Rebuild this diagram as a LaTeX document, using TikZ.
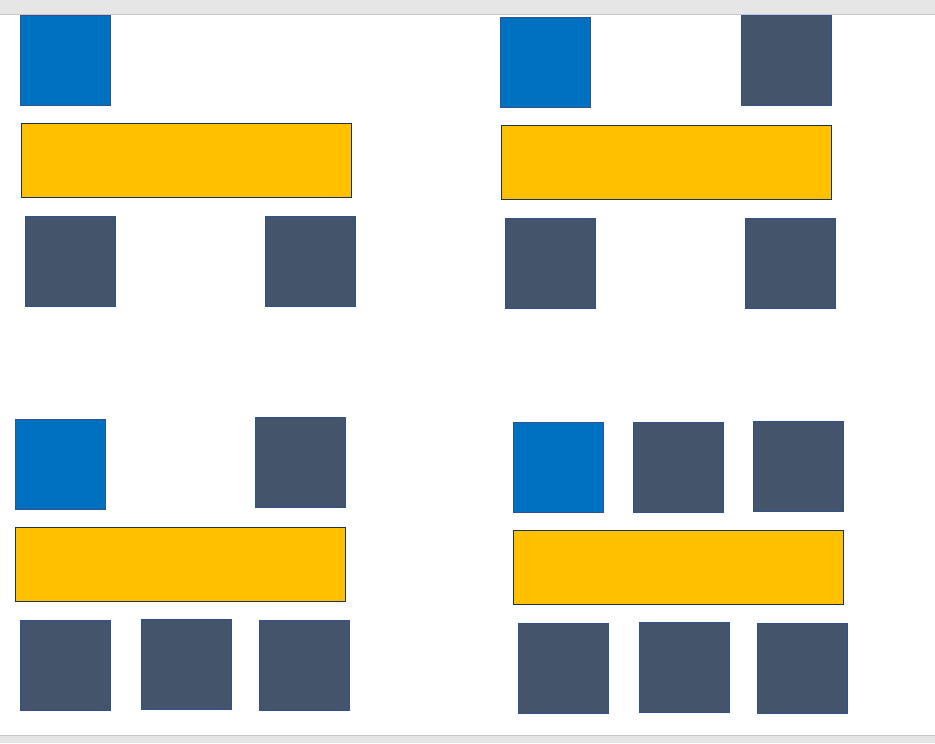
\documentclass[tikz,border=0pt]{standalone}
\usepackage{xcolor}
\usepackage{tikz}
\usetikzlibrary{positioning}
\definecolor{tileblue}{RGB}{0,112,192}
\definecolor{tilegold}{RGB}{255,192,0}
\definecolor{tileslate}{RGB}{68,84,106}
\definecolor{tileedge}{RGB}{47,82,143}
\definecolor{chrome}{RGB}{230,230,230}
\definecolor{chromeline}{RGB}{200,200,200}

\begin{document}
\begin{tikzpicture}[x=0.03cm, y=-0.03cm,
  box/.style={rectangle, draw=tileedge, line width=0.5pt, inner sep=0pt, outer sep=0pt,
              minimum width=2.7cm, minimum height=2.7cm},
  lead/.style={box, fill=tileblue},
  tile/.style={box, fill=tileslate},
  bar/.style={box, fill=tilegold, draw=tileedge!60!black, minimum width=9.9cm, minimum height=2.22cm}
]
\useasboundingbox (0,0) rectangle (935,743);
% window chrome
\fill[chrome] (0,0) rectangle (935,14);
\draw[chromeline, line width=0.6pt] (0,14) -- (935,14);
\fill[chrome] (0,735) rectangle (935,743);
\draw[chromeline, line width=0.6pt] (0,735) -- (935,735);

% top left
\node[lead] (p1lead) at (65.5,60)   {};
\node[bar]  (p1bar)  at (186,160)   {};
\node[tile] (p1t1)   at (70,261)    {};
\node[tile] (p1t2)   at (310,261.5) {};

% top right
\node[lead] (p2lead) at (545.5,62)  {};
\node[tile] (p2top)  at (786,60.5)  {};
\node[bar]  (p2bar)  at (666,162)   {};
\node[tile] (p2t1)   at (550,263)   {};
\node[tile] (p2t2)   at (790,263.5) {};

% bottom left
\node[lead] (p3lead) at (60,464)    {};
\node[tile] (p3top)  at (300.5,462.5) {};
\node[bar]  (p3bar)  at (180,564)   {};
\node[tile] (p3t1)   at (65,665)    {};
\node[tile] (p3t2)   at (186,664)   {};
\node[tile] (p3t3)   at (304.5,665.5) {};

% bottom right
\node[lead] (p4lead) at (558,467)   {};
\node[tile] (p4top1) at (678.5,467) {};
\node[tile] (p4top2) at (798.5,466) {};
\node[bar]  (p4bar)  at (678,567)   {};
\node[tile] (p4t1)   at (563,668)   {};
\node[tile] (p4t2)   at (684,667.5) {};
\node[tile] (p4t3)   at (802.5,668.5) {};
\end{tikzpicture}
\end{document}
